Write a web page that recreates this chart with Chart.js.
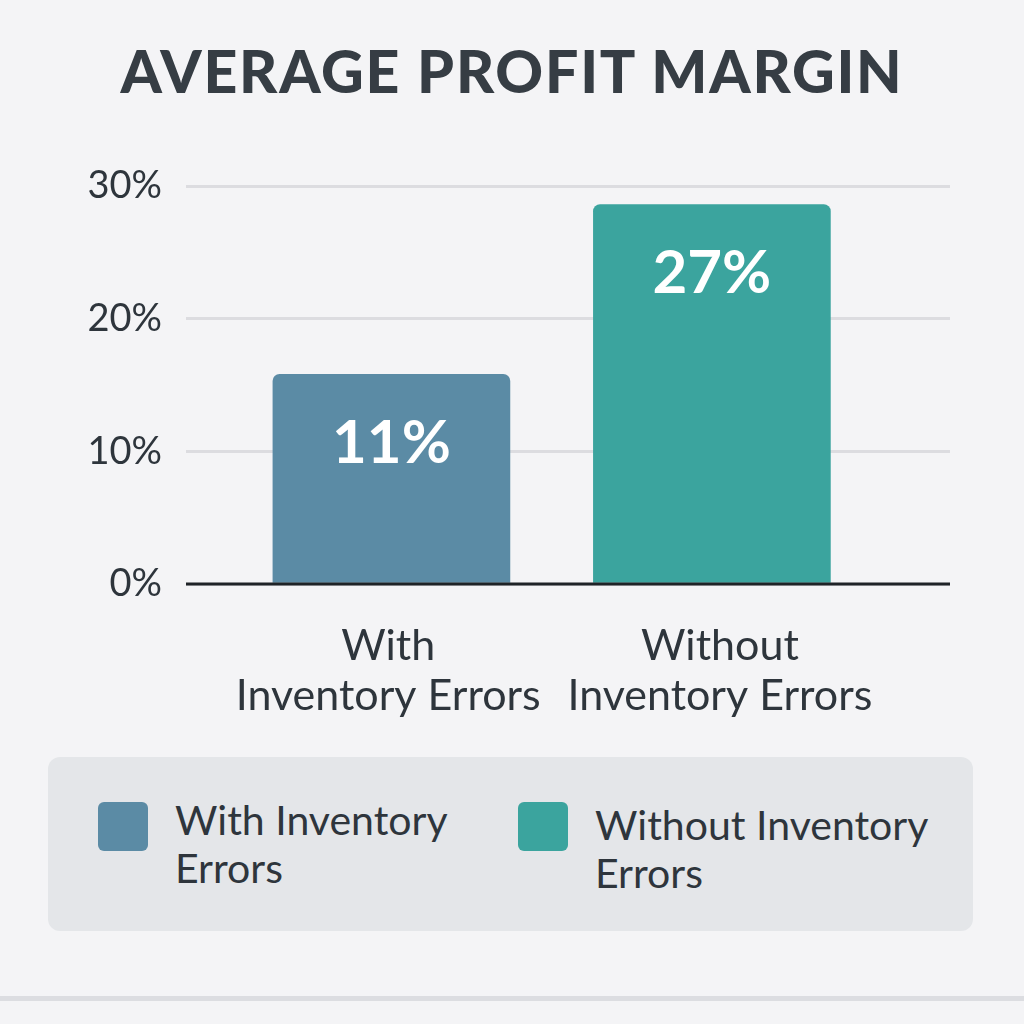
<!DOCTYPE html>
<html>
<head>
<meta charset="utf-8">
<script src="https://cdn.jsdelivr.net/npm/chart.js@4.4.1/dist/chart.umd.min.js"></script>
<style>
  html, body { margin: 0; padding: 0; background: #f4f4f6; }
  body { width: 1024px; height: 1024px; position: relative; overflow: hidden; font-family: Lato, sans-serif; }
  #wrap { position: absolute; left: 0; top: 0; width: 1024px; height: 1024px; }
  #title {
    position: absolute; left: 0; top: 30px; width: 1024px; text-align: center;
    font: 900 59px Lato, sans-serif; letter-spacing: 1.8px; color: #363d44; line-height: 82px;
  }
  #legend {
    position: absolute; left: 48px; top: 757px; width: 925px; height: 174px;
    background: #e4e6e9; border-radius: 12px;
  }
  .item { position: absolute; }
  .swatch { position: absolute; left: 0; top: 0; width: 50px; height: 49px; border-radius: 6px; }
  .label { position: absolute; left: 77px; font: 400 41px Lato, sans-serif; color: #2e353c; line-height: 48px; }
  #rule { position: absolute; left: 0; top: 996px; width: 1024px; height: 5px; background: #dcdde1; }
</style>
</head>
<body>
<div id="wrap"><canvas id="barChart"></canvas></div>
<div id="title">AVERAGE PROFIT MARGIN</div>
<div id="legend"></div>
<div id="rule"></div>
<script>
const categories = ['With Inventory Errors', 'Without Inventory Errors'];
const tickLines = [['With', 'Inventory Errors'], ['Without', 'Inventory Errors']];
const margins = [15.8, 28.6];
const valueLabels = ['11%', '27%'];
const barColors = ['#5b8ba5', '#3ba49e'];
const yTicks = [0, 10, 20, 30];

document.addEventListener('DOMContentLoaded', function() {
    // legend as html so it can wrap like the original
    const legendPos = [
        { left: 50, top: 45, width: 300 },
        { left: 470, top: 45, width: 365 }
    ];
    const legend = document.getElementById('legend');
    categories.forEach((name, i) => {
        const item = document.createElement('div');
        item.className = 'item';
        item.style.left = legendPos[i].left + 'px';
        item.style.top = legendPos[i].top + 'px';
        const sw = document.createElement('div');
        sw.className = 'swatch';
        sw.style.background = barColors[i];
        const tx = document.createElement('div');
        tx.className = 'label';
        tx.style.width = legendPos[i].width + 'px';
        tx.style.top = (i === 0 ? -6 : -1) + 'px';
        tx.textContent = name;
        item.appendChild(sw);
        item.appendChild(tx);
        legend.appendChild(item);
    });

    const valueLabelPlugin = {
        id: 'valueLabels',
        afterDatasetsDraw(chart) {
            const ctx = chart.ctx;
            const yScale = chart.scales.y;
            const area = chart.chartArea;
            // zero line sits on top of the bars
            ctx.save();
            ctx.strokeStyle = '#1f2327';
            ctx.lineWidth = 3;
            ctx.beginPath();
            ctx.moveTo(area.left, yScale.getPixelForValue(0));
            ctx.lineTo(area.right, yScale.getPixelForValue(0));
            ctx.stroke();
            ctx.fillStyle = '#ffffff';
            ctx.font = '700 60px Lato';
            ctx.textAlign = 'center';
            ctx.textBaseline = 'middle';
            chart.getDatasetMeta(0).data.forEach((bar, i) => {
                ctx.fillText(valueLabels[i], bar.x, bar.y + 69);
            });
            ctx.restore();
        }
    };

    const barChart = new Chart(document.getElementById('barChart').getContext('2d'), {
        type: 'bar',
        data: {
            datasets: [{
                data: margins.map((v, i) => ({ x: i, y: v })),
                backgroundColor: barColors,
                borderRadius: 7,
                barThickness: 237
            }]
        },
        options: {
            responsive: true,
            maintainAspectRatio: false,
            animation: false,
            layout: { padding: { top: 186, right: 74, bottom: 300, left: 0 } },
            plugins: {
                legend: { display: false },
                tooltip: { enabled: false }
            },
            scales: {
                x: {
                    type: 'linear',
                    offset: false,
                    min: -0.641,
                    max: 1.743,
                    grid: { display: false },
                    border: { display: false },
                    afterBuildTicks(axis) {
                        axis.ticks = categories.map((c, i) => ({ value: i + (i === 0 ? -0.01 : 0.025) }));
                    },
                    afterFit(axis) { axis.height = 140; },
                    ticks: {
                        autoSkip: false,
                        maxRotation: 0,
                        padding: 29,
                        color: '#2e353c',
                        font: { family: 'Lato', size: 43, lineHeight: 1.16 },
                        callback: (value) => tickLines[Math.round(value)]
                    }
                },
                y: {
                    min: 0,
                    max: 30,
                    afterBuildTicks(axis) {
                        axis.ticks = yTicks.map(v => ({ value: v }));
                    },
                    afterFit(axis) { axis.width = 186; },
                    border: { display: false },
                    grid: {
                        color: '#dcdce0',
                        lineWidth: 3,
                        drawTicks: false
                    },
                    ticks: {
                        padding: 24,
                        color: '#2e353c',
                        font: { family: 'Lato', size: 38 },
                        callback: (v) => v + '%'
                    }
                }
            }
        },
        plugins: [valueLabelPlugin]
    });
});
</script>
</body>
</html>
